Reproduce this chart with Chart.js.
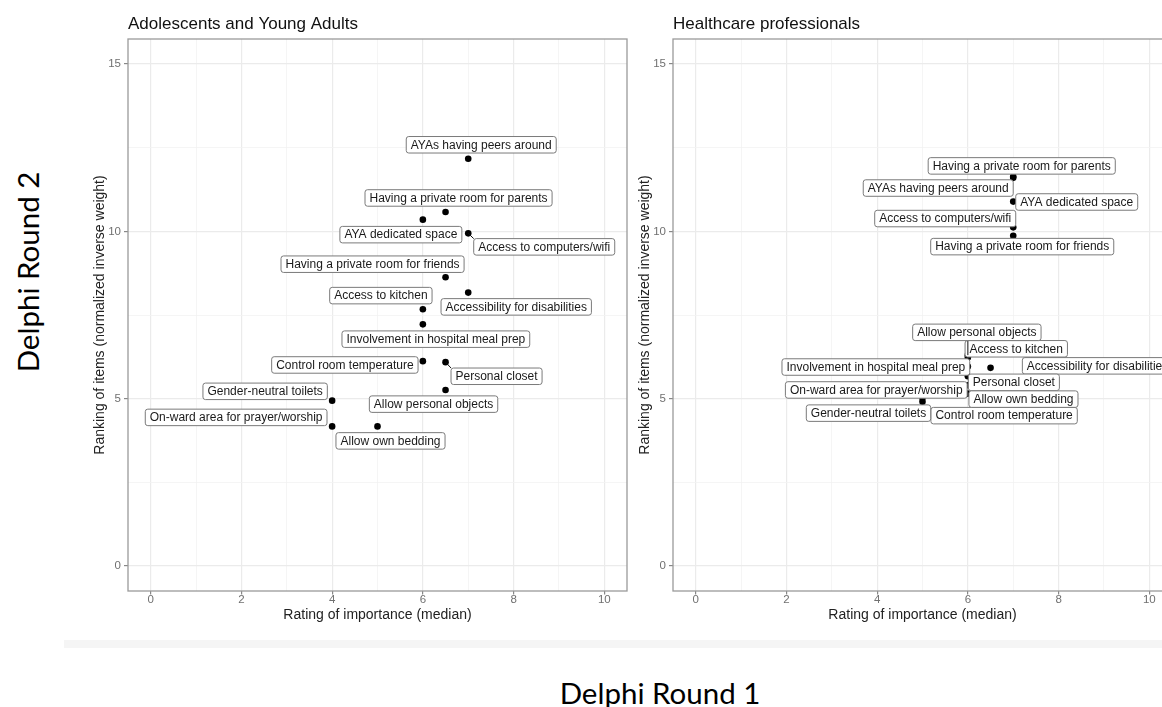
<!DOCTYPE html>
<html>
<head>
<meta charset="utf-8">
<title>Delphi Round 1 vs Round 2</title>
<script src="https://cdn.jsdelivr.net/npm/chart.js@4.4.0/dist/chart.umd.min.js"></script>
<style>
  html, body { margin: 0; padding: 0; background: #fff; }
  body { width: 1162px; height: 707px; position: relative; overflow: hidden; }
  canvas { position: absolute; top: 0; }
  #ayaChart { left: 80px; }
  #hcpChart { left: 625px; }
  .band { position: absolute; left: 64px; top: 640px; width: 1098px; height: 8px; background: #f5f5f5; }
  .round { position: absolute; font-family: Lato, "Open Sans", sans-serif; font-size: 29.5px; color: #000; white-space: nowrap; }
  #roundX { left: 660px; top: 692px; transform: translate(-50%, -50%); }
  #roundY { left: 27px; top: 272px; transform: translate(-50%, -50%) rotate(-90deg); }
</style>
</head>
<body>
<canvas id="ayaChart" width="551" height="630"></canvas>
<canvas id="hcpChart" width="551" height="630"></canvas>
<div class="band"></div>
<div class="round" id="roundY">Delphi Round 2</div>
<div class="round" id="roundX">Delphi Round 1</div>
<script>
// Items of the hospital environment
const items = [
  "AYAs having peers around",
  "Having a private room for parents",
  "AYA dedicated space",
  "Access to computers/wifi",
  "Having a private room for friends",
  "Accessibility for disabilities",
  "Access to kitchen",
  "Involvement in hospital meal prep",
  "Control room temperature",
  "Personal closet",
  "Allow personal objects",
  "Gender-neutral toilets",
  "On-ward area for prayer/worship",
  "Allow own bedding",
];

// Adolescents and Young Adults: rating (round 1) and ranking (round 2)
const ayaRating = [7, 6.5, 6, 7, 6.5, 7, 6, 6, 6, 6.5, 6.5, 4, 4, 5];
const ayaRanking = [12.17, 10.58, 10.35, 9.94, 8.63, 8.17, 7.67, 7.22, 6.12, 6.09, 5.26, 4.94, 4.17, 4.17];

// Healthcare professionals
const hcpRating = [7, 7, 7, 7, 7, 6.5, 6, 6, 5, 6, 6, 5, 6, 6];
const hcpRanking = [11.6, 11.64, 10.89, 10.12, 9.87, 5.92, 6.23, 5.96, 4.91, 5.67, 6.3, 5.03, 5.4, 5.15];

// Tick values
const xTicks = [0, 2, 4, 6, 8, 10];
const xMinorTicks = [1, 3, 5, 7, 9];
const yTicks = [0, 5, 10, 15];
const yMinorTicks = [2.5, 7.5, 12.5];

// Where each label box sits relative to its point (px), like ggrepel did it
const ayaLabelOffsets = [
  [13, -14], [13, -14], [-22, 15], [76, 13.5], [-73, -13], [48, 14.3], [-42, -13.7],
  [13, 14.8], [-78, 3.8], [51, 14.1], [-12, 14.2], [-67, -9.3], [-96, -9], [13, 14.5],
];
const ayaSegments = [3, 9];
const hcpLabelOffsets = [
  [-75, 10.2], [8.5, -10.6], [63.5, 0.4], [-68, -8.8], [9, 10.9], [107, -2], [48.4, -8.7],
  [-92, 0.5], [81.6, 14], [46, 6.1], [9, -22.8], [-54, 15.5], [-91.6, 4.7], [55.6, 5.5],
];
const hcpSegments = [10];

const family = "'Liberation Sans', Arial, sans-serif";

// Frame around the panel (theme_bw)
const panelBorder = {
  id: "panelBorder",
  beforeDatasetsDraw(chart) {
    const { ctx, chartArea: a } = chart;
    ctx.save();
    ctx.strokeStyle = "#9a9a9a";
    ctx.lineWidth = 1.3;
    ctx.strokeRect(a.left, a.top, a.right - a.left, a.bottom - a.top);
    ctx.restore();
  },
};

// Boxed text labels next to the points
const labelBoxes = {
  id: "labelBoxes",
  afterDatasetsDraw(chart, args, opts) {
    const ctx = chart.ctx;
    const points = chart.getDatasetMeta(0).data;
    ctx.save();
    ctx.font = "12px " + family;
    ctx.textAlign = "center";
    ctx.textBaseline = "middle";
    points.forEach((pt, i) => {
      const [dx, dy] = opts.offsets[i];
      const cx = pt.x + dx;
      const cy = pt.y + dy;
      const w = ctx.measureText(items[i]).width + 9;
      const h = 16.5;
      const x0 = cx - w / 2;
      const y0 = cy - h / 2;
      if (opts.segments.includes(i)) {
        const sx = Math.min(Math.max(pt.x, x0), x0 + w);
        const sy = Math.min(Math.max(pt.y, y0), y0 + h);
        ctx.strokeStyle = "#111";
        ctx.lineWidth = 1;
        ctx.beginPath();
        ctx.moveTo(pt.x, pt.y);
        ctx.lineTo(sx, sy);
        ctx.stroke();
      }
      ctx.beginPath();
      ctx.roundRect(x0, y0, w, h, 2.5);
      ctx.fillStyle = "#fff";
      ctx.fill();
      ctx.strokeStyle = "#7a7a7a";
      ctx.lineWidth = 1;
      ctx.stroke();
      ctx.fillStyle = "#1a1a1a";
      ctx.fillText(items[i], cx, cy + 0.5);
    });
    ctx.restore();
  },
};

function makePanel(canvasId, title, ratings, rankings, offsets, segments) {
  const ctx = document.getElementById(canvasId).getContext("2d");
  const points = ratings.map((r, i) => ({ x: r, y: rankings[i] }));
  const allX = xTicks.concat(xMinorTicks).sort((a, b) => a - b);
  const allY = yTicks.concat(yMinorTicks).sort((a, b) => a - b);

  return new Chart(ctx, {
    type: "scatter",
    data: {
      datasets: [
        {
          data: points,
          pointRadius: 3.3,
          pointBackgroundColor: "#000",
          pointBorderWidth: 0,
        },
      ],
    },
    options: {
      responsive: false,
      animation: false,
      events: [],
      layout: { padding: 0 },
      plugins: {
        legend: { display: false },
        tooltip: { enabled: false },
        title: {
          display: true,
          text: title,
          align: "start",
          fullSize: false,
          color: "#111",
          font: { size: 17, weight: "normal", family: family },
          padding: { top: 14, bottom: 4.6 },
        },
        labelBoxes: { offsets: offsets, segments: segments },
      },
      scales: {
        x: {
          type: "linear",
          min: -0.5,
          max: 10.5,
          afterBuildTicks: (axis) => {
            axis.ticks = allX.map((v) => ({ value: v }));
          },
          afterFit: (axis) => {
            axis.height = 39;
          },
          border: { display: false },
          grid: {
            color: (c) => (xTicks.includes(c.tick.value) ? "#ebebeb" : "#f3f3f3"),
            lineWidth: (c) => (xTicks.includes(c.tick.value) ? 1.2 : 0.8),
            tickLength: 3.5,
            tickColor: (c) => (xTicks.includes(c.tick.value) ? "#888" : "rgba(0,0,0,0)"),
          },
          ticks: {
            autoSkip: false,
            maxRotation: 0,
            padding: 0,
            color: "#707070",
            font: { size: 11.5, lineHeight: 1, family: family },
            callback: (v) => (xTicks.includes(v) ? String(v) : ""),
          },
          title: {
            display: true,
            text: "Rating of importance (median)",
            color: "#222",
            font: { size: 14, family: family },
            padding: { top: 0, bottom: 6.5 },
          },
        },
        y: {
          type: "linear",
          min: -0.75,
          max: 15.75,
          afterBuildTicks: (axis) => {
            axis.ticks = allY.map((v) => ({ value: v }));
          },
          afterFit: (axis) => {
            axis.width = 48;
          },
          border: { display: false },
          grid: {
            color: (c) => (yTicks.includes(c.tick.value) ? "#ebebeb" : "#f3f3f3"),
            lineWidth: (c) => (yTicks.includes(c.tick.value) ? 1.2 : 0.8),
            tickLength: 4,
            tickColor: (c) => (yTicks.includes(c.tick.value) ? "#888" : "rgba(0,0,0,0)"),
          },
          ticks: {
            autoSkip: false,
            padding: 3,
            color: "#707070",
            font: { size: 11.5, family: family },
            callback: (v) => (yTicks.includes(v) ? String(v) : ""),
          },
          title: {
            display: true,
            text: "Ranking of items (normalized inverse weight)",
            color: "#222",
            font: { size: 14, family: family },
            padding: { top: 12, bottom: 0 },
          },
        },
      },
    },
    plugins: [panelBorder, labelBoxes],
  });
}

document.addEventListener("DOMContentLoaded", () => {
  makePanel("ayaChart", "Adolescents and Young Adults", ayaRating, ayaRanking, ayaLabelOffsets, ayaSegments);
  makePanel("hcpChart", "Healthcare professionals", hcpRating, hcpRanking, hcpLabelOffsets, hcpSegments);
});
</script>
</body>
</html>
